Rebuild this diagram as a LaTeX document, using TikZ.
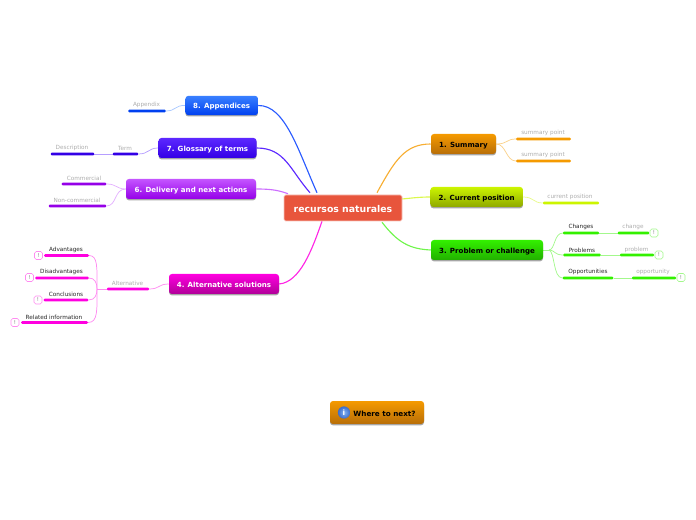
\documentclass[tikz,border=0pt]{standalone}
\usepackage{fontspec}
\setmainfont{DejaVu Sans}
\usetikzlibrary{shadows,backgrounds,calc}
\definecolor{cOr}{HTML}{F59A00}\definecolor{cOrD}{HTML}{B86E08}
\definecolor{cLi}{HTML}{CCF500}\definecolor{cLiD}{HTML}{8FA800}
\definecolor{cGr}{HTML}{33F000}\definecolor{cGrD}{HTML}{22B000}
\definecolor{cBl}{HTML}{3A80FF}\definecolor{cBlD}{HTML}{0040F0}
\definecolor{cIn}{HTML}{5C28FF}\definecolor{cInD}{HTML}{3300E6}
\definecolor{cPu}{HTML}{C455FF}\definecolor{cPuD}{HTML}{9500E8}
\definecolor{cMa}{HTML}{FF00E0}\definecolor{cMaD}{HTML}{B00098}
\definecolor{cRo}{HTML}{E8553C}
\definecolor{cIcI}{HTML}{85B2F0}\definecolor{cIcO}{HTML}{3A6CCC}
\tikzset{
  x=0.75pt,y=-0.75pt,
  topic/.style n args={3}{rectangle,rounded corners=2.2pt,top color=#1,bottom color=#2,
    text=#3,font=\fontsize{5.3}{7}\selectfont\bfseries,inner sep=0pt,text height=5pt,text depth=0pt,
    drop shadow={shadow xshift=0pt,shadow yshift=-1pt,opacity=.35,fill=black}},
  rootbox/.style={rectangle,rounded corners=1.2pt,fill=cRo,draw=cRo!35!white,line width=.4pt,text=white,
    font=\fontsize{7}{9}\selectfont\bfseries,inner sep=0pt,minimum width=88.5pt,minimum height=19.5pt,
    text height=6.4pt,text depth=0pt},
  bar/.style={rectangle,rounded corners=.8pt,fill=#1,inner sep=0pt,minimum height=2.2pt},
  sublabel/.style={font=\fontsize{4.3}{5.5}\selectfont,text=black!32,inner sep=0pt,yshift=-.75pt},
  darklabel/.style={font=\fontsize{4.3}{5.5}\selectfont,text=black!85,inner sep=0pt,yshift=-.75pt},
  badge/.style={rectangle,rounded corners=1.3pt,draw=#1,fill=white,line width=.5pt,inner sep=0pt,
    minimum width=6pt,minimum height=6pt,font=\fontsize{4}{5}\selectfont,text=black!50},
  main/.style={line width=.85pt,#1},
  thin/.style={line width=.55pt,#1!45!white},
}
\begin{document}
\begin{tikzpicture}
\useasboundingbox (0,0) rectangle (696,520);
% root and topics
\node[rootbox] (root) at (343,208) {recursos naturales};
\node[topic={cOr}{cOrD}{black},minimum width=48.75pt,minimum height=15pt] (t1) at (463.5,144) {1. Summary};
\node[topic={cLi}{cLiD}{black},minimum width=69.4pt,minimum height=15pt] (t2) at (476.7,197) {2. Current position};
\node[topic={cGr}{cGrD}{black},minimum width=84pt,minimum height=15pt] (t3) at (487,250) {3. Problem or challenge};
\node[topic={cMa}{cMaD}{white},minimum width=82.5pt,minimum height=15pt] (t4) at (224,284) {4. Alternative solutions};
\node[topic={cPu}{cPuD}{white},minimum width=97.5pt,minimum height=15pt] (t6) at (191,189) {6. Delivery and next actions};
\node[topic={cIn}{cInD}{white},minimum width=73.5pt,minimum height=15pt] (t7) at (207.5,148) {7. Glossary of terms};
\node[topic={cBl}{cBlD}{white},minimum width=54.4pt,minimum height=14.5pt] (t8) at (221.7,105.5) {8. Appendices};
\node[topic={cOr}{cOrD}{black},minimum width=70.5pt,minimum height=17.2pt] (next) at (377,412.5) {};
\shade[inner color=cIcI,outer color=cIcO] (344,412.5) circle (4.6pt);
\node[font=\fontsize{5.5}{7}\selectfont\bfseries,text=white,inner sep=0pt] (infoi) at (344,412.5) {i};
\node[font=\fontsize{5.4}{7}\selectfont\bfseries,text=black,inner sep=0pt,text height=5pt,text depth=0pt] (nextlabel) at (384.5,413) {Where to next?};
% summary
\node[bar=cOr,minimum width=41pt] (s1) at (543.5,139) {};
\node[bar=cOr,minimum width=41pt] (s2) at (543.5,161) {};
\node[sublabel] (s1t) at (543,132) {summary point};
\node[sublabel] (s2t) at (543,154) {summary point};
% current
\node[bar=cLi,minimum width=42pt] (c1) at (571,203) {};
\node[sublabel] (c1t) at (570,196) {current position};
% problem
\node[bar=cGr,minimum width=27pt] (p1) at (581,233) {};
\node[darklabel] (p1t) at (581,226) {Changes};
\node[bar=cGr,minimum width=23.5pt] (p1b) at (633.5,233) {};
\node[sublabel] (p1bt) at (633,226) {change};
\node[badge=cGr!45!white] (p1c) at (654,233) {!};
\node[bar=cGr,minimum width=28pt] (p2) at (582,255) {};
\node[darklabel] (p2t) at (582,249) {Problems};
\node[bar=cGr,minimum width=25.5pt] (p2b) at (637,255) {};
\node[sublabel] (p2bt) at (636.5,249) {problem};
\node[badge=cGr!45!white] (p2c) at (659,255) {!};
\node[bar=cGr,minimum width=38pt] (p3) at (588,278) {};
\node[darklabel] (p3t) at (588,271) {Opportunities};
\node[bar=cGr,minimum width=33pt] (p3b) at (654,278) {};
\node[sublabel] (p3bt) at (653,271) {opportunity};
\node[badge=cGr!45!white] (p3c) at (681,277.5) {!};
% appendices
\node[bar=cBlD,minimum width=28pt] (a1) at (147,111) {};
\node[sublabel] (a1t) at (146.5,104) {Appendix};
% glossary
\node[bar=cInD,minimum width=19pt] (g1) at (125.5,154) {};
\node[sublabel] (g1t) at (125,147) {Term};
\node[bar=cInD,minimum width=32.5pt] (g2) at (72.5,154) {};
\node[sublabel] (g2t) at (72,147) {Description};
% delivery
\node[bar=cPuD,minimum width=33.5pt] (d1) at (84,184) {};
\node[sublabel] (d1t) at (84,177) {Commercial};
\node[bar=cPuD,minimum width=43pt] (d2) at (77.5,206) {};
\node[sublabel] (d2t) at (77,199) {Non-commercial};
% alternative
\node[bar=cMa,minimum width=31.5pt] (m0) at (128,289) {};
\node[sublabel] (m0t) at (127.5,282) {Alternative};
\node[bar=cMa,minimum width=33.5pt] (m1) at (66.5,255.5) {};
\node[darklabel] (m1t) at (66,249) {Advantages};
\node[badge=cMa!45!white] (m1c) at (38.5,255.5) {!};
\node[bar=cMa,minimum width=40pt] (m2) at (62,278) {};
\node[darklabel] (m2t) at (61.5,271) {Disadvantages};
\node[badge=cMa!45!white] (m2c) at (29.5,277.5) {!};
\node[bar=cMa,minimum width=33.5pt] (m3) at (66,300) {};
\node[darklabel] (m3t) at (66,293) {Conclusions};
\node[badge=cMa!45!white] (m3c) at (38,300) {!};
\node[bar=cMa,minimum width=50pt] (m4) at (54.5,322.5) {};
\node[darklabel] (m4t) at (54,316) {Related information};
\node[badge=cMa!45!white] (m4c) at (15,322.5) {!};
\coordinate (jm) at (97,289);
\coordinate (jg) at (549,250);
% connectors
\begin{scope}[on background layer]
\draw[main=cBl!70!blue] (t8.east) .. controls (285,105) and (298,150) .. ($(root.north)+(-26,-2)$);
\draw[main=cIn] (t7.east) .. controls (285,148) and (290,170) .. ($(root.north)+(-33,-2)$);
\draw[main=cPu!85!white] (t6.east) .. controls (270,189) and (278,190) .. ($(root.north)+(-55,-1)$);
\draw[main=cMa!85!white] (t4.east) .. controls (300,282) and (312,250) .. ($(root.south)+(-21,0)$);
\draw[main=cOr!80!white] (t1.west) .. controls (405,144) and (395,160) .. ($(root.north)+(34,-2)$);
\draw[main=cLi!70!white] (t2.west) .. controls (420,197) and (412,198) .. ($(root.east)+(0,-9)$);
\draw[main=cGr!70!white] (t3.west) .. controls (410,249) and (398,243) .. ($(root.south)+(39,1)$);
\draw[thin=cOr] (t1.east) .. controls (508,144) and (506,139) .. (s1.west);
\draw[thin=cOr] (t1.east) .. controls (506,144) and (506,161) .. (s2.west);
\draw[thin=cLi] (t2.east) .. controls (534,197) and (533,203) .. (c1.west);
\draw[thin=cGr] (t3.east) -- (jg);
\draw[thin=cGr] (jg) .. controls (555,250) and (554,233) .. (p1.west);
\draw[thin=cGr] (jg) .. controls (555,250) and (554,255) .. (p2.west);
\draw[thin=cGr] (jg) .. controls (555,252) and (553,278) .. (p3.west);
\draw[thin=cGr] (p1.east) -- (p1b.west);
\draw[thin=cGr] (p2.east) -- (p2b.west);
\draw[thin=cGr] (p3.east) -- (p3b.west);
\draw[thin=cBl] (t8.west) .. controls (175,105) and (176,111) .. (a1.east);
\draw[thin=cIn] (t7.west) .. controls (148,148) and (149,154) .. (g1.east);
\draw[thin=cIn] (g1.west) -- (g2.east);
\draw[thin=cPu] (t6.west) .. controls (116,189) and (117,184) .. (d1.east);
\draw[thin=cPu] (t6.west) .. controls (114,189) and (117,206) .. (d2.east);
\draw[thin=cMa] (t4.west) .. controls (158,284) and (160,289) .. (m0.east);
\draw[thin=cMa] (m0.west) -- (jm);
\draw[thin=cMa] (jm) .. controls (97,268) and (98,255.5) .. (m1.east);
\draw[thin=cMa] (jm) .. controls (97,283) and (95,278) .. (m2.east);
\draw[thin=cMa] (jm) .. controls (97,295) and (95,300) .. (m3.east);
\draw[thin=cMa] (jm) .. controls (97,310) and (98,322.5) .. (m4.east);
\end{scope}
\end{tikzpicture}
\end{document}
